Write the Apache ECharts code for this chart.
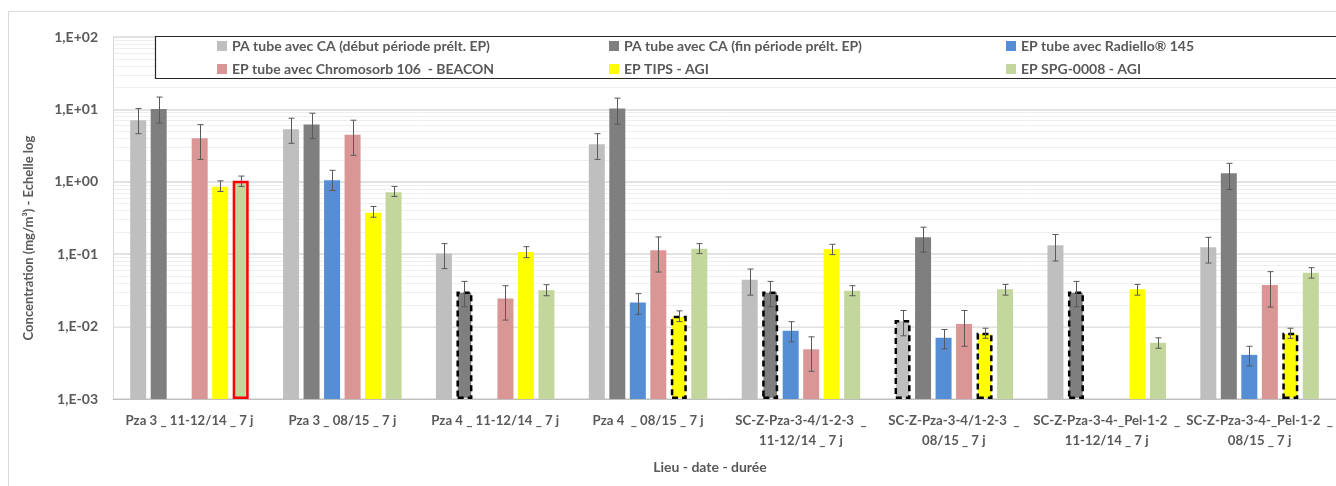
<!DOCTYPE html>
<html>
<head>
<meta charset="utf-8">
<script src="https://cdn.jsdelivr.net/npm/echarts@6/dist/echarts.min.js"></script>
<style>
html,body{margin:0;padding:0;background:#fff;}
#chart{width:1336px;height:486px;}
</style>
</head>
<body>
<div id="chart"></div>
<script>
const categories = [
  'Pza 3 _ 11-12/14 _ 7 j',
  'Pza 3 _ 08/15 _ 7 j',
  'Pza 4 _ 11-12/14 _ 7 j',
  'Pza 4  _ 08/15 _ 7 j',
  'SC-Z-Pza-3-4/1-2-3  _\n11-12/14 _ 7 j',
  'SC-Z-Pza-3-4/1-2-3  _\n08/15 _ 7 j',
  'SC-Z-Pza-3-4-_Pel-1-2  _\n11-12/14 _ 7 j',
  'SC-Z-Pza-3-4-_Pel-1-2  _\n08/15 _ 7 j'
];
const seriesNames = [
  'PA tube avec CA (début période prélt. EP)',
  'PA tube avec CA (fin période prélt. EP)',
  'EP tube avec Radiello® 145',
  'EP tube avec Chromosorb 106  - BEACON',
  'EP TIPS - AGI',
  'EP SPG-0008 - AGI'
];
const yTickLabels = ['1,E-03', '1,E-02', '1,E-01', '1,E+00', '1,E+01', '1,E+02'];
const yAxisTitle = 'Concentration (mg/m³) - Echelle log';
const xAxisTitle = 'Lieu - date - durée';

const paDebut    = [7.1, 5.3, 0.102, 3.3, 0.0445, 0.0123, 0.133, 0.125];
const paFin      = [10.1, 6.2, 0.0306, 10.3, 0.0306, 0.171, 0.0306, 1.31];
const radiello   = [null, 1.05, null, 0.0216, 0.00875, 0.0070, null, 0.00407];
const chromosorb = [3.99, 4.48, 0.0245, 0.113, 0.00486, 0.0109, null, 0.0374];
const tips       = [0.855, 0.374, 0.107, 0.0141, 0.117, 0.0082, 0.0327, 0.0082];
const spg        = [1.03, 0.716, 0.0319, 0.119, 0.0313, 0.0327, 0.00597, 0.0556];

const paDebutLow     = [4.62, 3.40, 0.0632, 2.04, 0.0272, 0.00746, 0.0805, 0.0755];
const paDebutHigh    = [10.26, 7.55, 0.140, 4.62, 0.0624, 0.0167, 0.187, 0.171];
const paFinLow       = [6.50, 3.94, 0.0188, 6.24, 0.0188, 0.107, 0.0188, 0.785];
const paFinHigh      = [14.8, 8.86, 0.0421, 14.3, 0.0421, 0.236, 0.0421, 1.80];
const radielloLow    = [null, 0.760, null, 0.0148, 0.00616, 0.00493, null, 0.00286];
const radielloHigh   = [null, 1.44, null, 0.0285, 0.0117, 0.00912, null, 0.00535];
const chromosorbLow  = [2.04, 2.32, 0.0123, 0.0567, 0.00241, 0.00535, null, 0.0186];
const chromosorbHigh = [6.16, 7.09, 0.0367, 0.173, 0.00722, 0.0167, null, 0.0574];
const tipsLow        = [0.736, 0.324, 0.0897, 0.0117, 0.0987, 0.0069, 0.0272, 0.0069];
const tipsHigh       = [1.03, 0.456, 0.127, 0.0165, 0.137, 0.0095, 0.0383, 0.0095];
const spgLow         = [0.864, 0.628, 0.0267, 0.102, 0.0267, 0.0272, 0.00502, 0.0468];
const spgHigh        = [1.20, 0.864, 0.0379, 0.140, 0.0367, 0.0383, 0.0070, 0.0652];

// ---- chart building ----
const values = [paDebut, paFin, radiello, chromosorb, tips, spg];
const lows = [paDebutLow, paFinLow, radielloLow, chromosorbLow, tipsLow, spgLow];
const highs = [paDebutHigh, paFinHigh, radielloHigh, chromosorbHigh, tipsHigh, spgHigh];
const colors = ['#bfbfbf', '#7f7f7f', '#558ed5', '#d99694', '#ffff00', '#c3d69b'];
const dashed = [[1,2],[4,3],[1,4],[0,5],[4,5],[1,6],[4,7]];
const redBox = [[5,0]];
const BAR_W = 16, BAR_GAP = 4.5;
const FONT = 'Lato, "Open Sans", sans-serif';
const TXT = '#595959';
const FS = 14;

function isIn(list, s, c) { return list.some(p => p[0] === s && p[1] === c); }

const series = [];
values.forEach((arr, s) => {
  series.push({
    name: seriesNames[s],
    type: 'bar',
    barWidth: BAR_W,
    barGap: (BAR_GAP / BAR_W * 100) + '%',
    itemStyle: { color: colors[s] },
    z: 2,
    data: arr.map((v, c) => {
      if (v == null) return null;
      const item = { value: v };
      if (isIn(dashed, s, c)) item.itemStyle = { borderColor: '#000', borderWidth: 2.5, borderType: [6, 4] };
      if (isIn(redBox, s, c)) item.itemStyle = { borderColor: '#ff0000', borderWidth: 2.5 };
      return item;
    })
  });
});

const total = 6 * BAR_W + 5 * BAR_GAP;
values.forEach((arr, s) => {
  const off = -total / 2 + BAR_W / 2 + s * (BAR_W + BAR_GAP);
  const data = [];
  arr.forEach((v, c) => { if (lows[s][c] != null) data.push([c, lows[s][c], highs[s][c]]); });
  series.push({
    name: 'err' + s,
    type: 'custom',
    z: 5,
    silent: true,
    encode: { x: 0, y: [1, 2] },
    data: data,
    renderItem: function (params, api) {
      const lo = api.coord([api.value(0), api.value(1)]);
      const hi = api.coord([api.value(0), api.value(2)]);
      const x = Math.round(lo[0] + off) + 0.5;
      const st = { stroke: '#595959', lineWidth: 1 };
      return {
        type: 'group',
        children: [
          { type: 'line', shape: { x1: x, y1: hi[1], x2: x, y2: lo[1] }, style: st },
          { type: 'line', shape: { x1: x - 3, y1: hi[1], x2: x + 3, y2: hi[1] }, style: st },
          { type: 'line', shape: { x1: x - 3, y1: lo[1], x2: x + 3, y2: lo[1] }, style: st }
        ]
      };
    }
  });
});

// minor log gridlines (2..9 x 10^k)
const minorLines = [];
for (let k = -3; k < 2; k++) for (let m = 2; m <= 9; m++) minorLines.push({ yAxis: m * Math.pow(10, k) });
series[0].markLine = {
  silent: true, symbol: 'none', label: { show: false },
  lineStyle: { color: '#efefef', width: 1, type: 'solid' },
  z: 0,
  data: minorLines
};

const legendCommon = {
  orient: 'vertical', top: 39, itemWidth: 10, itemHeight: 10, itemGap: 9, padding: 0,
  icon: 'rect', z: 10,
  textStyle: { fontFamily: FONT, fontWeight: 'bold', fontSize: FS, color: TXT, lineHeight: 14 }
};

const option = {
  backgroundColor: '#fff',
  animation: false,
  color: colors,
  grid: { left: 113, top: 37, width: 1227, height: 362 },
  graphic: [
    { type: 'rect', shape: { x: 8.5, y: 11.5, width: 1400, height: 500 }, style: { fill: 'none', stroke: '#d9d9d9', lineWidth: 1 }, z: -1, silent: true },
    { type: 'rect', shape: { x: 155.5, y: 36.5, width: 1200, height: 42 }, style: { fill: '#fff', stroke: '#262626', lineWidth: 1.2 }, z: 8, silent: true },
    { type: 'text', x: 710, y: 467, style: { text: xAxisTitle, fontFamily: FONT, fontWeight: 'bold', fontSize: FS, fill: TXT, align: 'center', verticalAlign: 'middle' }, z: 10 },
    { type: 'text', x: 29, y: 238, rotation: Math.PI / 2, style: { text: yAxisTitle, fontFamily: FONT, fontWeight: 'bold', fontSize: 13, fill: TXT, align: 'center', verticalAlign: 'middle' }, z: 10 }
  ],
  legend: [
    Object.assign({}, legendCommon, { left: 217, data: [seriesNames[0], seriesNames[3]] }),
    Object.assign({}, legendCommon, { left: 609, data: [seriesNames[1], seriesNames[4]] }),
    Object.assign({}, legendCommon, { left: 1006, data: [seriesNames[2], seriesNames[5]] })
  ],
  xAxis: {
    type: 'category',
    data: categories,
    axisLine: { lineStyle: { color: '#bfbfbf', width: 1 } },
    axisTick: { show: false },
    axisLabel: { interval: 0, margin: 12, fontFamily: FONT, fontWeight: 'bold', fontSize: 13.2, color: TXT, lineHeight: 20 },
    splitLine: { show: false }
  },
  yAxis: {
    type: 'log',
    logBase: 10,
    min: 0.001,
    max: 100,
    startValue: 0.001,
    axisLine: { show: true, lineStyle: { color: '#d9d9d9' } },
    axisTick: { show: false },
    axisLabel: {
      margin: 15, fontFamily: FONT, fontWeight: 'bold', fontSize: FS, color: TXT,
      formatter: function (v) { const i = Math.round(Math.log10(v)) + 3; return yTickLabels[i] || ''; }
    },
    splitLine: { show: true, lineStyle: { color: '#d9d9d9', width: 1.5 } }
  },
  series: series
};

const chart = echarts.init(document.getElementById('chart'));
chart.setOption(option);
</script>
</body>
</html>
